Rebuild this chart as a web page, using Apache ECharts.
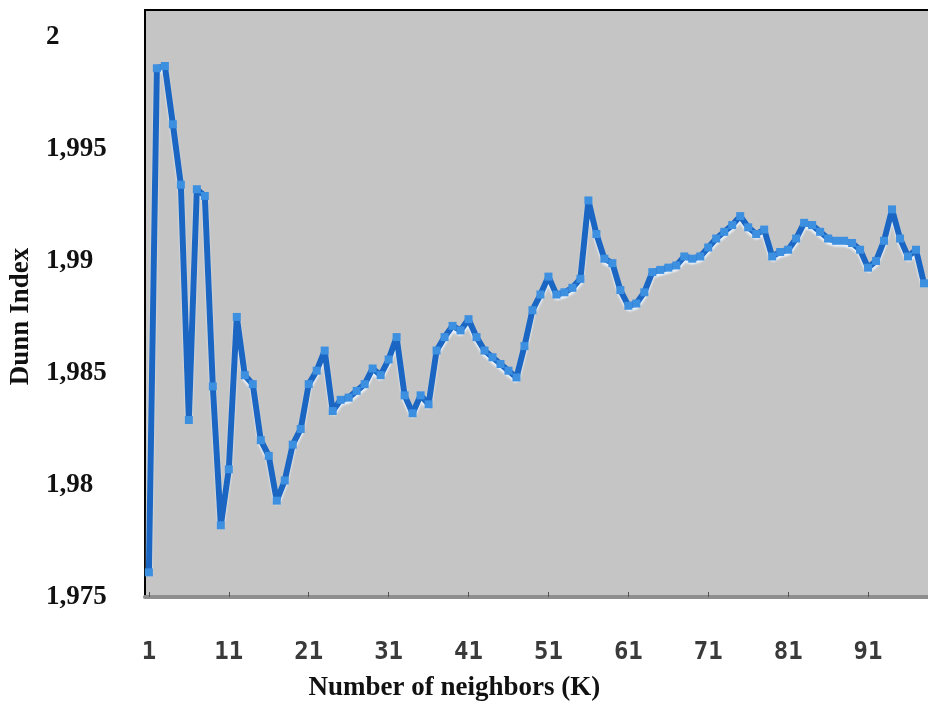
<!DOCTYPE html>
<html>
<head>
<meta charset="utf-8">
<script src="https://cdn.jsdelivr.net/npm/echarts@6/dist/echarts.min.js"></script>
<style>
html,body{margin:0;padding:0;background:#fff;}
#chart{width:928px;height:707px;}
</style>
</head>
<body>
<div id="chart"></div>
<script>
// Number of neighbors (K)
var kValues = [1,2,3,4,5,6,7,8,9,10,11,12,13,14,15,16,17,18,19,20,
  21,22,23,24,25,26,27,28,29,30,31,32,33,34,35,36,37,38,39,40,
  41,42,43,44,45,46,47,48,49,50,51,52,53,54,55,56,57,58,59,60,
  61,62,63,64,65,66,67,68,69,70,71,72,73,74,75,76,77,78,79,80,
  81,82,83,84,85,86,87,88,89,90,91,92,93,94,95,96,97,98];

// Dunn Index values
var dunnIndex = [
  1.9761,1.9986,1.9987,1.9961,1.9934,1.9829,1.9932,1.9929,1.9844,1.9782,
  1.9807,1.9875,1.9849,1.9845,1.9820,1.9813,1.9793,1.9802,1.9818,1.9825,
  1.9845,1.9851,1.9860,1.9833,1.9838,1.9839,1.9842,1.9845,1.9852,1.9849,
  1.9856,1.9866,1.9840,1.9832,1.9840,1.9836,1.9860,1.9866,1.9871,1.9869,
  1.9874,1.9866,1.9860,1.9857,1.9854,1.9851,1.9848,1.9862,1.9878,1.9885,
  1.9893,1.9885,1.9886,1.9888,1.9892,1.9927,1.9912,1.9901,1.9899,1.9887,
  1.9880,1.9881,1.9886,1.9895,1.9896,1.9897,1.9898,1.9902,1.9901,1.9902,
  1.9906,1.9910,1.9913,1.9916,1.9920,1.9915,1.9912,1.9914,1.9902,1.9904,
  1.9905,1.9910,1.9917,1.9916,1.9913,1.9910,1.9909,1.9909,1.9908,1.9905,
  1.9897,1.9900,1.9909,1.9923,1.9910,1.9902,1.9905,1.9890
];

// Y axis tick labels
var yTicks = [1.975, 1.98, 1.985, 1.99, 1.995, 2];
var yMin = 1.975;
var yMax = 2.0012;
var yStep = 0.005;

function fmtY(v) {
  for (var i = 0; i < yTicks.length; i++) {
    if (Math.abs(v - yTicks[i]) < 1e-7) {
      return String(yTicks[i]).replace('.', ',');
    }
  }
  return '';
}

var chart = echarts.init(document.getElementById('chart'), null, {renderer: 'canvas'});
chart.setOption({
  animation: false,
  backgroundColor: '#ffffff',
  grid: {
    left: 143, right: 0, top: 10, bottom: 110,
    show: true,
    backgroundColor: '#c5c5c5',
    borderWidth: 0
  },
  xAxis: [{
    type: 'category',
    data: kValues,
    boundaryGap: true,
    position: 'bottom',
    name: 'Number of neighbors (K)',
    nameLocation: 'middle',
    nameGap: 78,
    nameTextStyle: {
      fontFamily: 'Liberation Serif',
      fontWeight: 'bold',
      fontSize: 27,
      color: '#111',
      padding: [0, 164, 0, 0]
    },
    axisLine: {show: true, lineStyle: {color: '#8e8e8e', width: 4}},
    axisTick: {show: true, interval: 9, alignWithLabel: true, inside: true, length: 5, lineStyle: {color: '#555', width: 1}},
    axisLabel: {
      interval: 9,
      margin: 44,
      fontFamily: 'DejaVu Sans Mono',
      fontWeight: 'bold',
      fontSize: 24,
      color: '#3a3a3a'
    },
    splitLine: {show: false}
  }, {
    type: 'category',
    data: kValues,
    position: 'top',
    axisLine: {show: true, lineStyle: {color: '#000', width: 2}},
    axisTick: {show: false},
    axisLabel: {show: false},
    splitLine: {show: false}
  }],
  yAxis: {
    type: 'value',
    min: yMin,
    max: yMax,
    interval: yStep,
    name: 'Dunn Index',
    nameLocation: 'middle',
    nameGap: 106,
    nameRotate: 90,
    nameTextStyle: {
      fontFamily: 'Liberation Serif',
      fontWeight: 'bold',
      fontSize: 27,
      color: '#111',
      padding: [0, 26, 0, 0]
    },
    axisLine: {show: true, lineStyle: {color: '#000', width: 2}},
    axisTick: {show: false},
    axisLabel: {
      align: 'left',
      margin: 99,
      formatter: fmtY,
      fontFamily: 'Liberation Serif',
      fontWeight: 'bold',
      fontSize: 27,
      color: '#111'
    },
    splitLine: {show: false}
  },
  series: [{
    type: 'line',
    data: dunnIndex,
    symbol: 'rect',
    symbolSize: 8,
    showSymbol: true,
    showAllSymbol: true,
    lineStyle: {
      color: '#1a66c2',
      width: 6,
      shadowColor: 'rgba(235,245,255,0.9)',
      shadowOffsetY: 3,
      shadowBlur: 2
    },
    itemStyle: {color: '#3d8fe0'},
    z: 3
  }]
});
</script>
</body>
</html>
